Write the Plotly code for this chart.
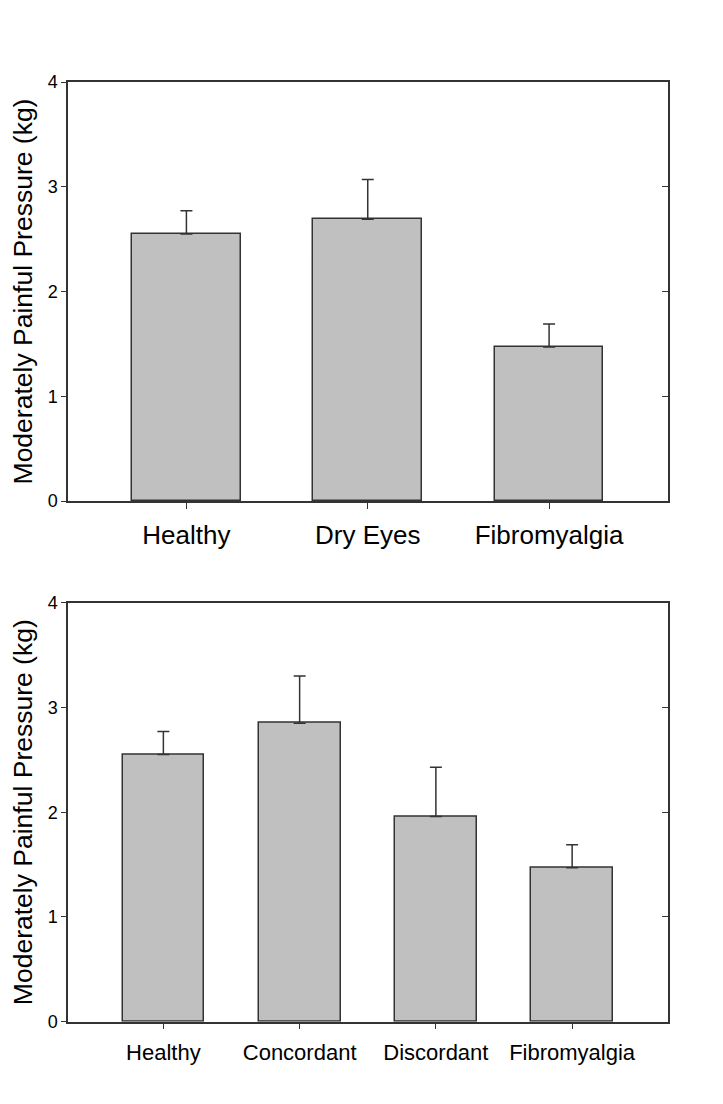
import plotly.graph_objects as go

# ---- data ----
top_categories = ["Healthy", "Dry Eyes", "Fibromyalgia"]
top_values = [2.55, 2.69, 1.47]
top_errors = [0.22, 0.38, 0.22]

bottom_categories = ["Healthy", "Concordant", "Discordant", "Fibromyalgia"]
bottom_values = [2.55, 2.85, 1.96, 1.47]
bottom_errors = [0.22, 0.45, 0.47, 0.22]

y_ticks = [0, 1, 2, 3, 4]
y_title = "Moderately Painful Pressure (kg)"

# ---- style ----
FONT = "Arial, Liberation Sans, sans-serif"
LINE = "#333333"
FILL = "#c0c0c0"
W, H = 723, 1104
OFF = 8  # page body margin

x_dom = [(68 - OFF) / W, (667.5 - OFF) / W]
top_dom = [(H - (501 - OFF)) / H, (H - (82 - OFF)) / H]
bot_dom = [(H - (1021.7 - OFF)) / H, (H - (602.7 - OFF)) / H]

fig = go.Figure()


def add_bars(cats, vals, errs, xa, ya):
    fig.add_trace(go.Bar(
        x=list(range(len(cats))), y=vals, width=0.6,
        marker=dict(color=FILL, line=dict(color=LINE, width=1.5)),
        error_y=dict(type="data", array=errs, arrayminus=[0] * len(errs),
                     symmetric=False, color=LINE, thickness=1.5, width=6),
        xaxis=xa, yaxis=ya, showlegend=False, hoverinfo="skip",
    ))


add_bars(top_categories, top_values, top_errors, "x", "y")
add_bars(bottom_categories, bottom_values, bottom_errors, "x2", "y2")


def xaxis(cats, dom_anchor, fsize, rng, standoff):
    return dict(
        domain=x_dom, anchor=dom_anchor, range=rng, automargin=False,
        tickmode="array", tickvals=list(range(len(cats))), ticktext=cats,
        ticks="outside", ticklen=6, tickwidth=1.3, tickcolor=LINE,
        showline=True, linecolor=LINE, linewidth=1.5, mirror=True,
        showgrid=False, zeroline=False,
        tickfont=dict(family=FONT, size=fsize, color="black"),
        ticklabelstandoff=standoff,
    )


def yaxis_left(dom, anchor):
    return dict(
        domain=dom, anchor=anchor, range=[0, 4], automargin=False,
        tickmode="array", tickvals=y_ticks,
        ticks="outside", ticklen=5, tickwidth=1.3, tickcolor=LINE,
        showline=True, linecolor=LINE, linewidth=1.5,
        showgrid=False, zeroline=False,
        tickfont=dict(family=FONT, size=18, color="black"),
        ticklabelstandoff=0,
        title=dict(text=y_title, font=dict(family=FONT, size=26.5, color="black"),
                   standoff=10),
    )


def yaxis_right(dom, anchor, over):
    return dict(
        domain=dom, anchor=anchor, overlaying=over, side="right", range=[0, 4],
        automargin=False,
        tickmode="array", tickvals=[1, 2, 3],
        ticks="inside", ticklen=6, tickwidth=1.3, tickcolor=LINE,
        showline=True, linecolor=LINE, linewidth=1.5,
        showticklabels=False, showgrid=False, zeroline=False,
    )


fig.update_layout(
    width=W, height=H,
    margin=dict(l=0, r=0, t=0, b=0, autoexpand=False),
    paper_bgcolor="white", plot_bgcolor="white",
    xaxis=xaxis(top_categories, "y", 26, [-0.653, 2.653], 4),
    yaxis=yaxis_left(top_dom, "x"),
    xaxis2=xaxis(bottom_categories, "y2", 22, [-0.7, 3.7], 4),
    yaxis2=yaxis_left(bot_dom, "x2"),
    yaxis3=yaxis_right(top_dom, "x", "y"),
    yaxis4=yaxis_right(bot_dom, "x2", "y2"),
    bargap=0,
)

# invisible traces so the right-hand tick axes render
fig.add_trace(go.Scatter(x=[0], y=[0], xaxis="x", yaxis="y3", mode="markers",
                         marker=dict(opacity=0), showlegend=False, hoverinfo="skip"))
fig.add_trace(go.Scatter(x=[0], y=[0], xaxis="x2", yaxis="y4", mode="markers",
                         marker=dict(opacity=0), showlegend=False, hoverinfo="skip"))

fig.write_html("out.html")
